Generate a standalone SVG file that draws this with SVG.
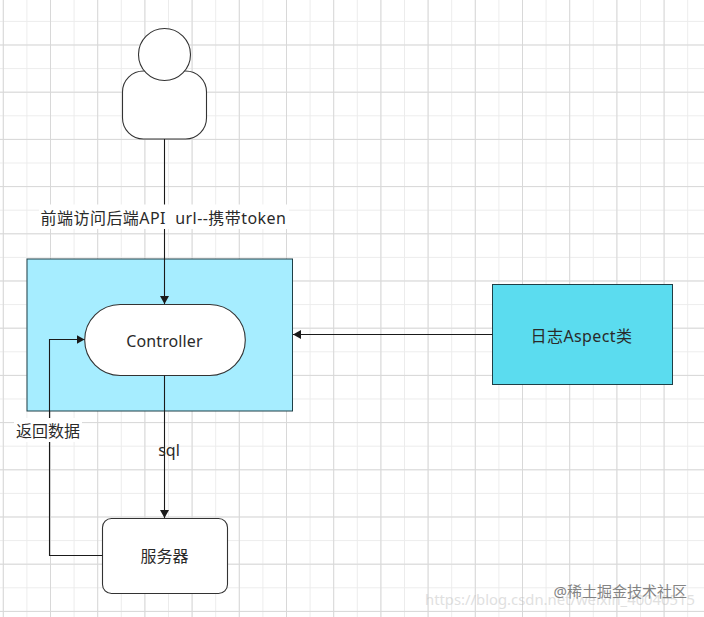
<svg xmlns="http://www.w3.org/2000/svg" width="704" height="617" viewBox="0 0 704 617">
<style>
text{font-family:"Noto Sans","Noto Sans CJK SC",sans-serif;font-size:16px;fill:#2a2a2a;text-anchor:middle}
.s{stroke:#333;stroke-width:1.1;fill:#fff}
.c{stroke:#1a1a1a;stroke-width:1.1;fill:none}
.lb{fill:#fff;stroke:none}
</style>
<defs>
<pattern id="minor" width="23.6" height="23.6" patternUnits="userSpaceOnUse" x="2.8" y="-2.7">
<path d="M.5 0V23.6M0 .5H23.6" stroke="#ececec" stroke-width="1" fill="none"/>
</pattern>
<pattern id="major" width="47.2" height="47.2" patternUnits="userSpaceOnUse" x="2.8" y="-2.7">
<path d="M.5 0V47.2M0 .5H47.2" stroke="#d8d8d8" stroke-width="1" fill="none"/>
</pattern>
<marker id="a" markerUnits="userSpaceOnUse" markerWidth="9" markerHeight="9" refX="8" refY="4.5" orient="auto">
<path d="M0 0L8 4.5L0 9Z" fill="#1a1a1a"/>
</marker>
</defs>
<rect width="704" height="617" fill="#fff"/>
<rect width="704" height="617" fill="url(#minor)"/>
<rect width="704" height="617" fill="url(#major)"/>
<g id="aspect-box"><rect x="27" y="259" width="265.500" height="152" fill="#a6edff" stroke="#1f3f46" stroke-width="1"/></g>
<g id="user">
<rect class="s" x="122.500" y="71" width="84" height="68" rx="21" ry="21"/>
<circle class="s" cx="164.500" cy="54.500" r="26"/>
</g>
<g id="controller"><rect class="s" x="84.700" y="304.500" width="160.600" height="71" rx="35.500" ry="35.500"/><text x="164.500" y="347" style="letter-spacing:.1px">Controller</text></g>
<g id="server"><rect class="s" x="102.500" y="518.500" width="125" height="75" rx="9" ry="9"/><text x="164.500" y="562">服务器</text></g>
<g id="logger"><rect x="492.500" y="284.500" width="180" height="100" fill="#5bdcef" stroke="#1f3f46" stroke-width="1"/><text x="581.500" y="342" style="letter-spacing:.4px">日志Aspect类</text></g>
<g id="connectors">
<path class="c" d="M164.500 139V304" marker-end="url(#a)"/>
<path class="c" d="M164.500 375.500V518" marker-end="url(#a)"/>
<path class="c" d="M102.500 555.500H49.500V339.500H84.500" marker-end="url(#a)"/>
<path class="c" d="M492.500 334.500H293" marker-end="url(#a)"/>
</g>
<g id="labels">
<rect class="lb" x="39" y="204.500" width="250" height="24.500"/><text x="163.500" y="224" xml:space="preserve" style="letter-spacing:.45px">前端访问后端API  url--携带token</text>
<rect class="lb" x="14" y="418" width="68" height="24"/><text x="48" y="437">返回数据</text>
<text x="169" y="456">sql</text>
</g>
<g id="watermark">
<text x="425" y="605" textLength="270" lengthAdjust="spacingAndGlyphs" style="font-size:14px;fill:#bbb;opacity:.45;text-anchor:start">https://blog.csdn.net/weixin_40040515</text>
<text x="687" y="597" style="font-size:15px;fill:#666;opacity:.8;text-anchor:end">@稀土掘金技术社区</text>
</g>
</svg>
